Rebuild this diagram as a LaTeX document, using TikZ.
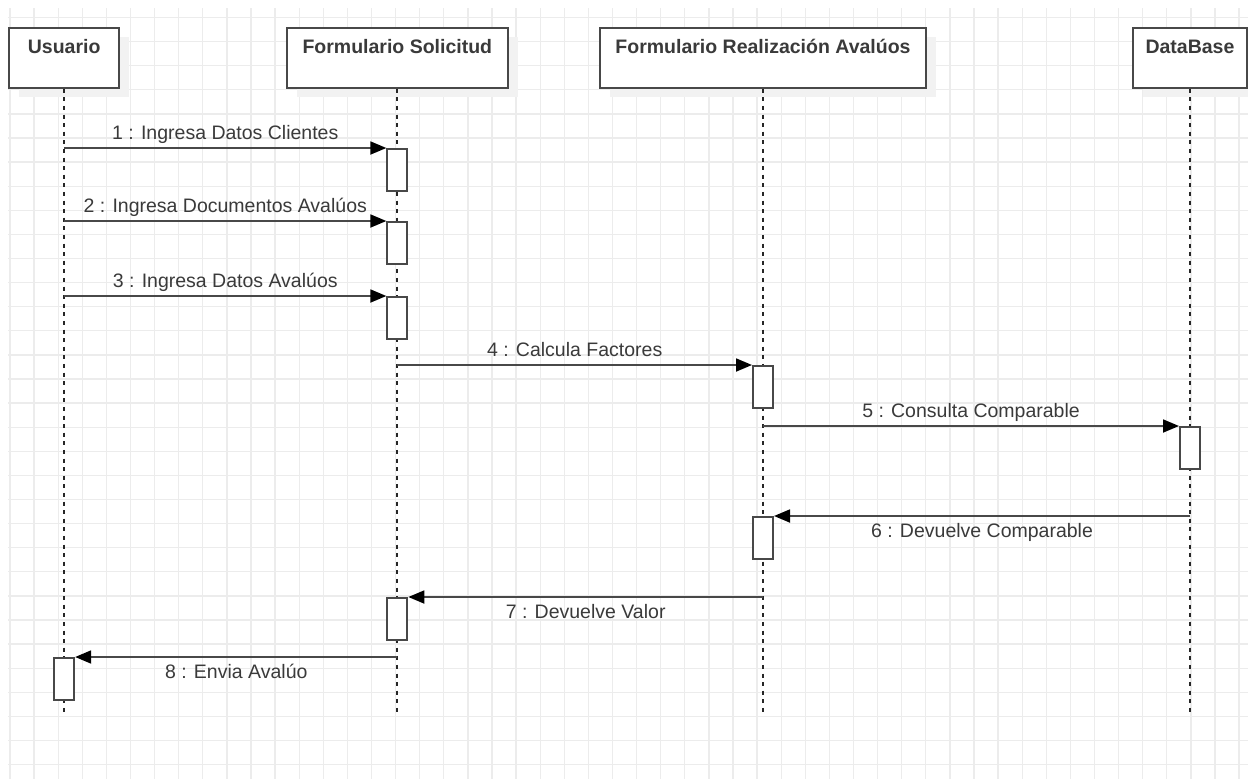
\documentclass[tikz,border=0pt]{standalone}
\usepackage{fontspec}
\setmainfont{Liberation Sans}
\usetikzlibrary{arrows.meta,shadows}

\definecolor{gridc}{RGB}{236,236,236}
\definecolor{ink}{RGB}{72,72,72}
\definecolor{txt}{RGB}{58,58,58}
\definecolor{shade}{RGB}{242,242,242}

\begin{document}
\begin{tikzpicture}[x=1pt,y=-1pt,
  header/.style={draw=ink, line width=2pt, fill=white, minimum height=59.4pt,
    minimum width=#1, inner sep=0pt, anchor=north west,
    drop shadow={shadow xshift=10pt, shadow yshift=-9pt, fill=shade, opacity=1}},
  title/.style={font=\fontsize{19.5}{22}\selectfont\bfseries, text=txt,
    inner sep=0pt, anchor=base},
  lifeline/.style={line width=1.8pt, black!85, dash pattern=on 4pt off 4.6pt},
  activation/.style={draw=ink, line width=2pt, fill=white, minimum width=20pt,
    minimum height=42pt, inner sep=0pt, anchor=north},
  msg/.style={line width=1.8pt, ink, -{Triangle[length=16pt,width=13pt,black]}},
  msglabel/.style={font=\fontsize{19.5}{22}\selectfont, text=txt,
    inner sep=0pt, anchor=base}
]
% canvas and background grid
\useasboundingbox (0,0) rectangle (1248,779);
\fill[white] (0,0) rectangle (1248,779);
\foreach \i in {0,...,51} {
  \draw[gridc, line width=1.3pt] ({10+24.1*\i},8) -- ({10+24.1*\i},779);
}
\foreach \j in {0,...,31} {
  \draw[gridc, line width=1.3pt] (8,{17.5+24.1*\j}) -- (1248,{17.5+24.1*\j});
}

% participants
\node[header=109.7pt] (usr) at (8.3,27.3) {};
\node[header=220.7pt] (sol) at (286,27.3) {};
\node[header=326pt]   (rea) at (599,27.3) {};
\node[header=114pt]   (db)  at (1132,27.3) {};

\node[title] (usrT) at ([yshift=-25.7pt]usr.north) {Usuario};
\node[title] (solT) at ([yshift=-25.7pt]sol.north) {Formulario Solicitud};
\node[title] (reaT) at ([yshift=-25.7pt]rea.north) {Formulario Realización Avalúos};
\node[title] (dbT)  at ([yshift=-25.7pt]db.north)  {DataBase};

% lifeline ends
\coordinate (usrE) at (usr.south |- 0,715);
\coordinate (solE) at (sol.south |- 0,715);
\coordinate (reaE) at (rea.south |- 0,715);
\coordinate (dbE)  at (db.south  |- 0,715);

\draw[lifeline] (usr.south) -- (usrE);
\draw[lifeline] (sol.south) -- (solE);
\draw[lifeline] (rea.south) -- (reaE);
\draw[lifeline] (db.south)  -- (dbE);

% activation bars
\node[activation] (a1) at (sol.south |- 0,148) {};
\node[activation] (a2) at (sol.south |- 0,221) {};
\node[activation] (a3) at (sol.south |- 0,296) {};
\node[activation] (a4) at (rea.south |- 0,365) {};
\node[activation] (a5) at (db.south  |- 0,426) {};
\node[activation] (a6) at (rea.south |- 0,516) {};
\node[activation] (a7) at (sol.south |- 0,597) {};
\node[activation] (a8) at (usr.south |- 0,657) {};

% messages
\draw[msg] (usr.south |- a1.north) -- (a1.north west)
  node[msglabel, midway, yshift=8.5pt] (l1) {1 : Ingresa Datos Clientes};
\draw[msg] (usr.south |- a2.north) -- (a2.north west)
  node[msglabel, midway, yshift=8.5pt] (l2) {2 : Ingresa Documentos Avalúos};
\draw[msg] (usr.south |- a3.north) -- (a3.north west)
  node[msglabel, midway, yshift=8.5pt] (l3) {3 : Ingresa Datos Avalúos};
\draw[msg] (sol.south |- a4.north) -- (a4.north west)
  node[msglabel, midway, yshift=8.5pt] (l4) {4 : Calcula Factores};
\draw[msg] (rea.south |- a5.north) -- (a5.north west)
  node[msglabel, midway, yshift=8.5pt] (l5) {5 : Consulta Comparable};
\draw[msg] (db.south |- a6.north) -- (a6.north east)
  node[msglabel, midway, yshift=-21pt] (l6) {6 : Devuelve Comparable};
\draw[msg] (rea.south |- a7.north) -- (a7.north east)
  node[msglabel, midway, yshift=-21pt] (l7) {7 : Devuelve Valor};
\draw[msg] (sol.south |- a8.north) -- (a8.north east)
  node[msglabel, midway, yshift=-21pt] (l8) {8 : Envia Avalúo};
\end{tikzpicture}
\end{document}
